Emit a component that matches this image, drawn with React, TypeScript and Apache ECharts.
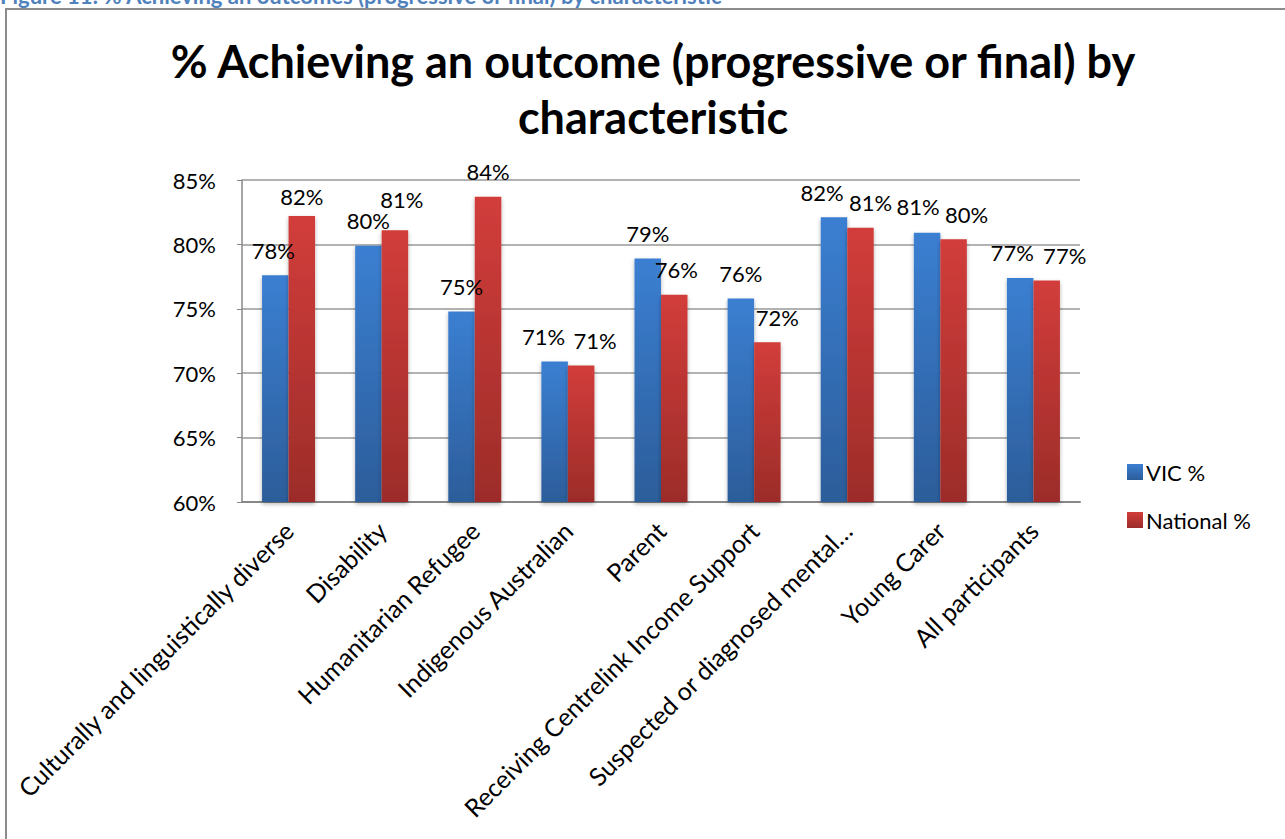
import React, { useEffect, useRef } from "react";
import * as echarts from "echarts";

const categories = [
  "Culturally and linguistically diverse",
  "Disability",
  "Humanitarian Refugee",
  "Indigenous Australian",
  "Parent",
  "Receiving Centrelink Income Support",
  "Suspected or diagnosed mental…",
  "Young Carer",
  "All participants",
];
const vicValues = [77.6, 79.9, 74.8, 70.9, 78.9, 75.8, 82.1, 80.9, 77.4];
const nationalValues = [82.2, 81.1, 83.7, 70.6, 76.1, 72.4, 81.3, 80.4, 77.2];
const seriesNames = ["VIC %", "National %"];
const titleText = "% Achieving an outcome (progressive or final) by\ncharacteristic";
const captionText = "Figure 11: % Achieving an outcomes (progressive or final) by characteristic";

// label nudges (layout only), as placed in the original
const vicLabelOffsets = [[-2, 0], [0, 0], [0, 0], [-11, 0], [0, 0], [0, 0], [-12, 0], [-9, -1], [-8, 0]];
const natLabelOffsets = [[0, 5], [7, -6], [0, 0], [14, 0], [2, 0], [10, 0], [10, 0], [13, 0], [18, 0]];

const FONT = "Lato, 'Open Sans', sans-serif";

export default function App() {
  const ref = useRef<HTMLDivElement>(null);
  useEffect(() => {
    if (!ref.current) return;
    const chart = echarts.init(ref.current, null, { renderer: "svg" });
    const grad = (top: string, bottom: string) =>
      new echarts.graphic.LinearGradient(0, 0, 0, 1, [
        { offset: 0, color: top },
        { offset: 1, color: bottom },
      ]);
    const labelCfg = {
      show: true,
      position: "top" as const,
      distance: 14,
      fontSize: 22,
      fontFamily: FONT,
      color: "#000",
      formatter: (p: any) => Math.round(p.value) + "%",
    };
    const withOffsets = (vals: number[], offs: number[][]) =>
      vals.map((v, i) => ({ value: v, label: { offset: offs[i] } }));
    chart.setOption({
      animation: false,
      backgroundColor: "#fff",
      textStyle: { fontFamily: FONT },
      title: {
        text: titleText,
        left: 648,
        textAlign: "center",
        top: 28,
        textStyle: {
          fontFamily: FONT,
          fontSize: 45,
          fontWeight: "bold",
          color: "#000",
          lineHeight: 56,
        },
      },
      graphic: [
        {
          type: "rect",
          shape: { x: 6, y: 9, width: 1300, height: 850 },
          style: { fill: "none", stroke: "#8c8c8c", lineWidth: 2 },
          silent: true,
        },
        {
          type: "text",
          x: 0,
          y: -16,
          style: {
            text: captionText,
            fontSize: 22,
            fontWeight: "bold",
            fontFamily: FONT,
            fill: "#4f81bd",
          },
          silent: true,
        },
      ],
      legend: {
        orient: "vertical",
        left: 1122,
        top: 456,
        itemWidth: 16,
        itemHeight: 16,
        itemGap: 26,
        icon: "rect",
        textStyle: { fontSize: 22, fontFamily: FONT, color: "#000", padding: [0, 0, 0, -2] },
        data: seriesNames,
      },
      grid: { left: 242, right: 205, top: 180, bottom: 337, containLabel: false },
      xAxis: {
        type: "category",
        data: categories,
        axisLine: { show: true, lineStyle: { color: "#888", width: 2 } },
        axisTick: { show: false },
        axisLabel: {
          rotate: 45,
          interval: 0,
          fontSize: 25,
          fontFamily: FONT,
          color: "#000",
          margin: 24,
        },
      },
      yAxis: {
        type: "value",
        min: 60,
        max: 85,
        interval: 5,
        axisLine: { show: true, lineStyle: { color: "#888", width: 1.5 } },
        axisTick: { show: true, length: 5, lineStyle: { color: "#888" } },
        splitLine: { show: true, lineStyle: { color: "#999", width: 1.5 } },
        axisLabel: {
          fontSize: 22,
          fontFamily: FONT,
          color: "#000",
          margin: 26,
          formatter: (v: number) => v + "%",
        },
      },
      series: [
        {
          name: seriesNames[0],
          type: "bar",
          data: withOffsets(vicValues, vicLabelOffsets),
          barWidth: 26.5,
          barGap: "0%",
          itemStyle: {
            color: grad("#3b7fd2", "#2c5d9a"),
            shadowColor: "rgba(0,0,0,0.3)",
            shadowBlur: 4,
            shadowOffsetY: 2,
          },
          label: labelCfg,
        },
        {
          name: seriesNames[1],
          type: "bar",
          data: withOffsets(nationalValues, natLabelOffsets),
          barWidth: 26.5,
          itemStyle: {
            color: grad("#d23d3b", "#9c2c29"),
            shadowColor: "rgba(0,0,0,0.3)",
            shadowBlur: 4,
            shadowOffsetY: 2,
          },
          label: labelCfg,
        },
      ],
    });
    return () => chart.dispose();
  }, []);
  return (
    <div
      ref={ref}
      style={{ position: "fixed", left: 0, top: 0, width: 1285, height: 839, background: "#fff" }}
    />
  );
}
